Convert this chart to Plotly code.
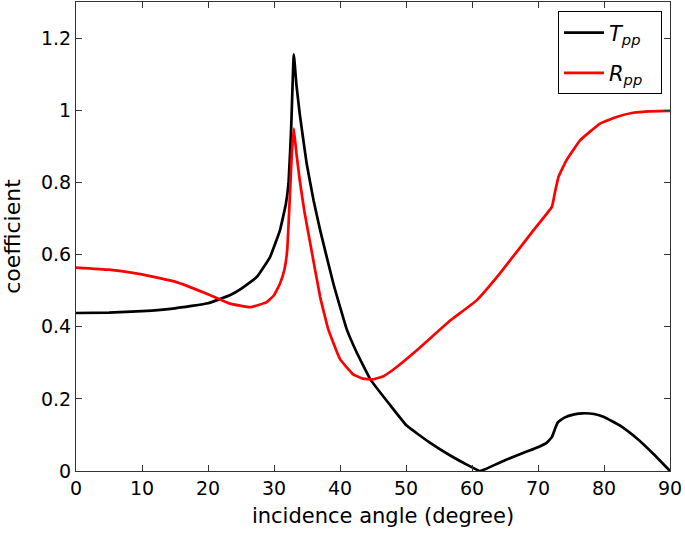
import plotly.graph_objects as go

# Incidence angle (degrees) and coefficients
t_angle = [0, 5, 10, 15, 20, 23.3, 25, 27.4, 29.4, 30.9, 31.8, 32.2, 32.6, 33.0,
           33.4, 33.9, 34.95, 36.0, 37.0, 39.0, 41.0, 42.5, 44.6, 47.5, 50.1,
           53.5, 56.7, 59.5, 61.2, 62.0, 65.0, 68.0, 70.0, 71.3, 72.1, 72.6,
           73.0, 74.0, 75.5, 76.8, 78.5, 80.0, 82.5, 85.0, 87.5, 90.0]
t_pp = [0.438, 0.439, 0.443, 0.451, 0.465, 0.487, 0.505, 0.538, 0.593, 0.667,
        0.74, 0.797, 0.95, 1.155, 1.07, 0.99, 0.852, 0.75, 0.667, 0.519, 0.394,
        0.33, 0.254, 0.185, 0.126, 0.08, 0.043, 0.015, 0.0, 0.005, 0.03, 0.052,
        0.066, 0.078, 0.094, 0.118, 0.135, 0.148, 0.157, 0.160, 0.158, 0.150,
        0.125, 0.09, 0.047, 0.0]

r_angle = [0, 5, 10, 15, 20, 23.3, 26.4, 28.9, 30.0, 30.9, 31.6, 32.0, 32.4,
           32.7, 33.0, 33.4, 33.9, 34.6, 35.5, 37.0, 38.2, 40.0, 42.0, 43.5,
           45.0, 46.5, 48.0, 51.6, 56.7, 60.7, 64.2, 69.3, 72.1, 72.6, 73.1,
           74.3, 76.4, 79.4, 82.0, 84.4, 87.0, 90.0]
r_pp = [0.564, 0.558, 0.545, 0.525, 0.49, 0.464, 0.454, 0.468, 0.487, 0.519,
        0.56, 0.612, 0.76, 0.88, 0.949, 0.88, 0.806, 0.72, 0.63, 0.482, 0.394,
        0.31, 0.268, 0.256, 0.254, 0.262, 0.28, 0.334, 0.417, 0.473, 0.547,
        0.667, 0.732, 0.775, 0.815, 0.861, 0.917, 0.963, 0.982, 0.993, 0.997,
        0.998]

x_ticks = [0, 10, 20, 30, 40, 50, 60, 70, 80, 90]
y_ticks = [0, 0.2, 0.4, 0.6, 0.8, 1, 1.2]

fig = go.Figure()
fig.add_trace(go.Scatter(x=t_angle, y=t_pp, mode="lines", legendgroup="t",
                         line=dict(color="black", width=2.7, shape="spline", smoothing=0.3),
                         name="<i>T</i><sub><i>pp</i></sub>&nbsp;&nbsp;"))
fig.add_trace(go.Scatter(x=r_angle, y=r_pp, mode="lines", legendgroup="r",
                         line=dict(color="#ff0000", width=2.7, shape="spline", smoothing=0.3),
                         name="<i>R</i><sub><i>pp</i></sub>&nbsp;&nbsp;"))

axis_common = dict(showline=True, linecolor="#333333", linewidth=1.2, mirror="ticks",
                   ticks="inside", ticklen=6, tickcolor="#333333", showgrid=False,
                   zeroline=False, automargin=False,
                   tickfont=dict(size=19, color="black"))

fig.update_layout(
    width=685, height=537,
    margin=dict(l=76, r=15, t=2, b=66),
    paper_bgcolor="white", plot_bgcolor="white",
    font=dict(family="DejaVu Sans, sans-serif", color="black"),
    xaxis=dict(range=[0, 90], tickvals=x_ticks,
               title=dict(text="&nbsp;&nbsp;&nbsp;incidence angle (degree)",
                          font=dict(size=21), standoff=10),
               **axis_common),
    yaxis=dict(range=[0, 1.3], tickvals=y_ticks,
               title=dict(text="coefficient", font=dict(size=22), standoff=14),
               **axis_common),
    legend=dict(x=0.9865, y=0.98, xanchor="right", yanchor="top",
                bordercolor="black", borderwidth=1, bgcolor="white",
                font=dict(size=21), tracegroupgap=10, itemwidth=40),
    showlegend=True,
)

fig.write_html("out.html", config={"displayModeBar": False},
               post_script="document.body.style.margin='0';")
